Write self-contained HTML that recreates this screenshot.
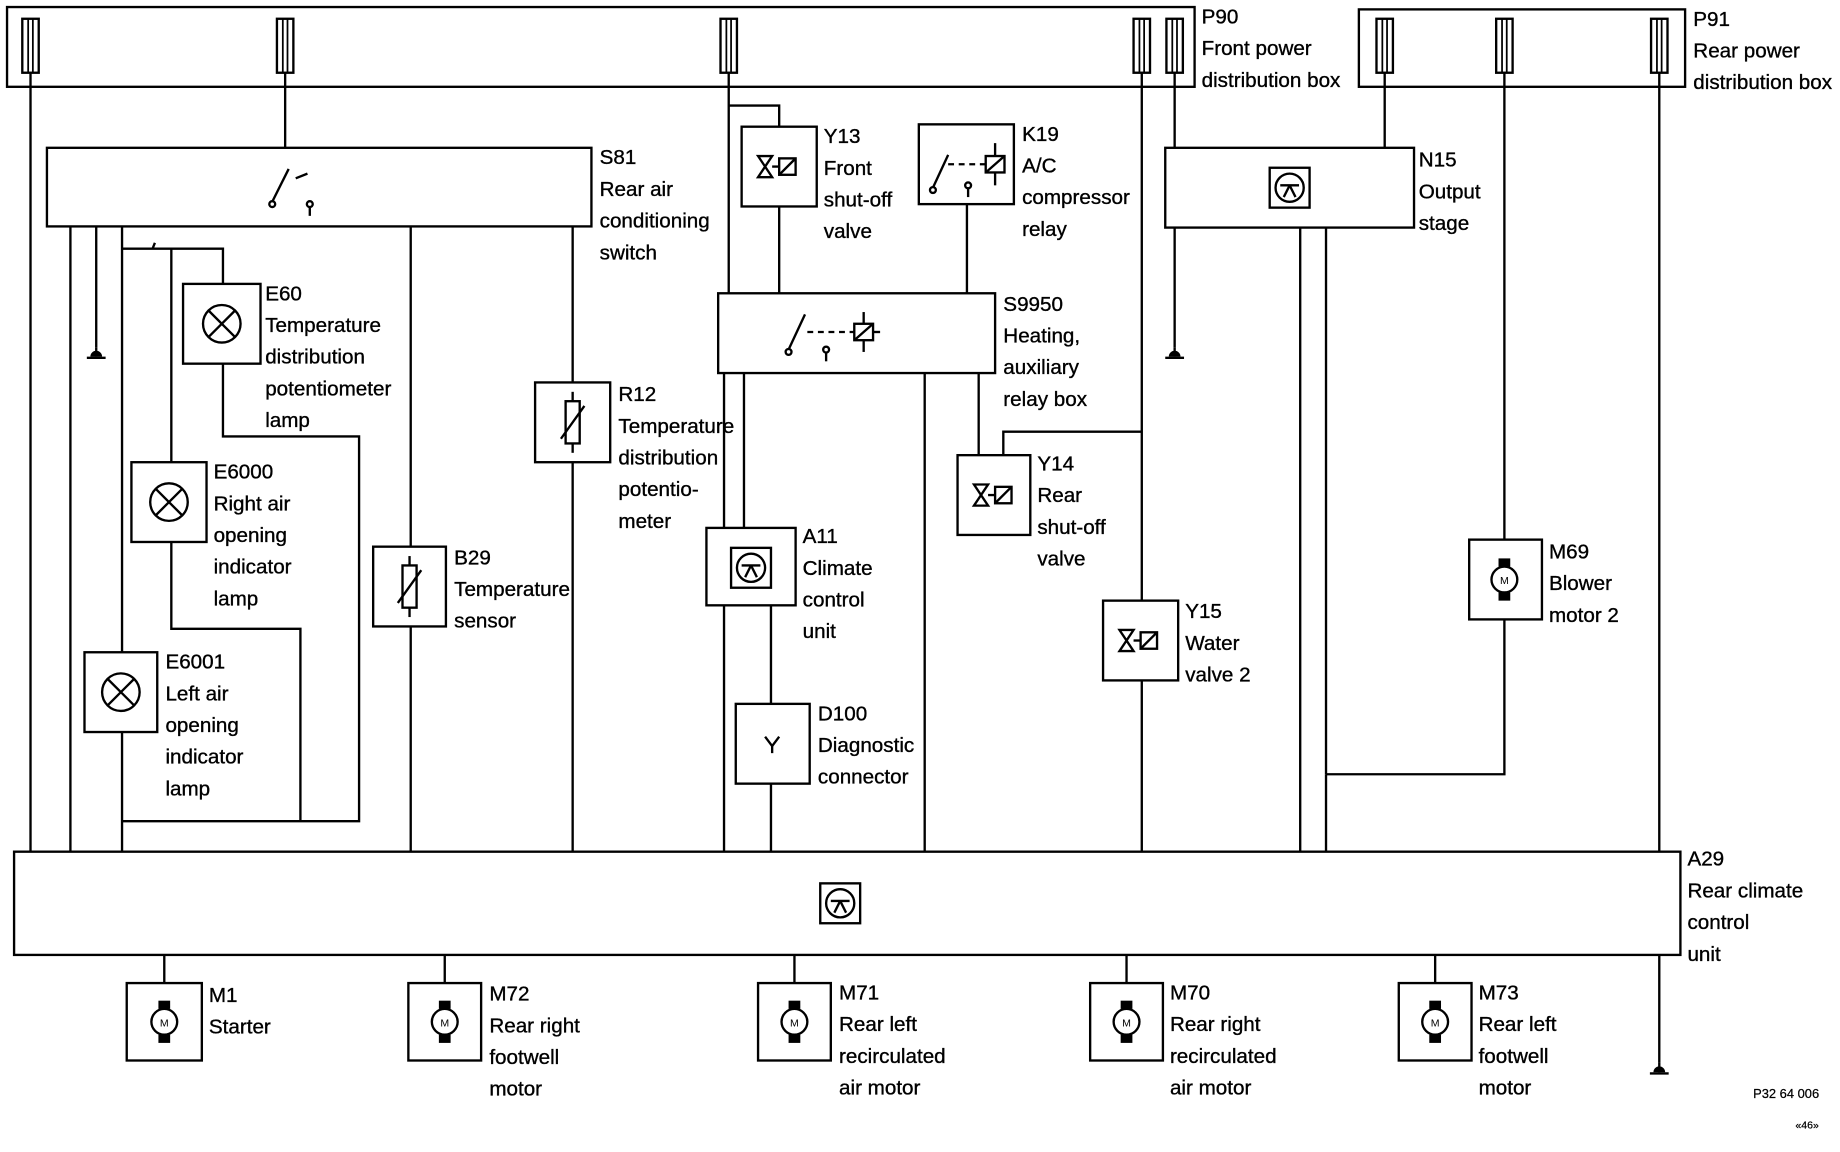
<!DOCTYPE html>
<html><head><meta charset="utf-8"><style>
html,body{margin:0;padding:0;background:#fff;}
svg{display:block;}
text{font-family:"Liberation Sans",sans-serif;font-size:17.6px;fill:#000;stroke:#000;stroke-width:0.3px;}
</style></head><body>
<svg width="1840" height="1152" viewBox="0 0 1568 982" preserveAspectRatio="none" xmlns="http://www.w3.org/2000/svg">
<defs>
<g id="gnd"><line x1="0" y1="-8" x2="0" y2="0" stroke="#000" stroke-width="2"/><path d="M-5,0 A5,5 0 0 1 5,0 Z" fill="#000"/><line x1="-8" y1="1" x2="8" y2="1" stroke="#000" stroke-width="2"/></g>
<g id="conn"><rect x="-7" y="0" width="14" height="46" fill="#fff" stroke="#000" stroke-width="2"/><line x1="-2" y1="0" x2="-2" y2="46" stroke="#000" stroke-width="1.5"/><line x1="2" y1="0" x2="2" y2="46" stroke="#000" stroke-width="1.5"/></g>
<g id="motor"><circle cx="0" cy="0" r="11" fill="none" stroke="#000" stroke-width="2"/><rect x="-5" y="-18" width="10" height="7" fill="#000"/><rect x="-5" y="11" width="10" height="7" fill="#000"/><text x="0" y="4" text-anchor="middle" style="font-size:9px;stroke-width:0">M</text></g>
<g id="lamp"><circle cx="0" cy="0" r="16" fill="none" stroke="#000" stroke-width="2"/><line x1="-11" y1="-11" x2="11" y2="11" stroke="#000" stroke-width="2"/><line x1="-11" y1="11" x2="11" y2="-11" stroke="#000" stroke-width="2"/></g>
<g id="ecu"><rect x="-17" y="-17" width="34" height="34" fill="none" stroke="#000" stroke-width="2"/><circle cx="0" cy="0" r="12" fill="none" stroke="#000" stroke-width="2"/><line x1="-8" y1="-2" x2="8" y2="-2" stroke="#000" stroke-width="2"/><line x1="0" y1="-2" x2="-5" y2="8" stroke="#000" stroke-width="2"/><line x1="0" y1="-2" x2="5" y2="8" stroke="#000" stroke-width="2"/></g>
<g id="valve"><path d="M-18,-9 L-6,9 L-18,9 L-6,-9 Z" fill="none" stroke="#000" stroke-width="2"/><line x1="-6" y1="0" x2="0" y2="0" stroke="#000" stroke-width="2"/><rect x="0" y="-7" width="14" height="14" fill="none" stroke="#000" stroke-width="2"/><line x1="0" y1="7" x2="14" y2="-7" stroke="#000" stroke-width="2"/></g>
<g id="pot"><rect x="-6" y="-18" width="12" height="36" fill="none" stroke="#000" stroke-width="2"/><line x1="-10" y1="14" x2="10" y2="-14" stroke="#000" stroke-width="2"/><line x1="0" y1="-26" x2="0" y2="-18" stroke="#000" stroke-width="2"/><line x1="0" y1="18" x2="0" y2="26" stroke="#000" stroke-width="2"/></g>
</defs>
<g stroke="#000" stroke-width="2" fill="none">
<rect x="6" y="6" width="1012" height="68"/>
<rect x="1158" y="8" width="278" height="66"/>
<line x1="26" y1="62" x2="26" y2="726"/>
<line x1="243" y1="62" x2="243" y2="126"/>
<line x1="621" y1="62" x2="621" y2="250"/>
<line x1="973" y1="62" x2="973" y2="726"/>
<line x1="1001" y1="62" x2="1001" y2="296"/>
<line x1="1180" y1="62" x2="1180" y2="126"/>
<line x1="1282" y1="62" x2="1282" y2="460"/>
<line x1="1414" y1="62" x2="1414" y2="726"/>
<line x1="1414" y1="814" x2="1414" y2="906"/>
<rect x="40" y="126" width="464" height="67" fill="#fff"/>
<line x1="232" y1="172" x2="246" y2="144"/>
<circle cx="232" cy="174" r="2.5"/>
<line x1="252" y1="152" x2="262" y2="148"/>
<circle cx="264" cy="174" r="2.5"/><line x1="264" y1="176" x2="264" y2="184"/>
<line x1="60" y1="193" x2="60" y2="726"/>
<line x1="82" y1="193" x2="82" y2="296"/>
<line x1="104" y1="193" x2="104" y2="556"/>
<line x1="104" y1="624" x2="104" y2="726"/>
<line x1="350" y1="193" x2="350" y2="726"/>
<line x1="488" y1="193" x2="488" y2="726"/>
<polyline points="104,212 190,212 190,242"/>
<line x1="130" y1="212" x2="132" y2="207"/>
<polyline points="190,310 190,372 306,372 306,700 104,700"/>
<line x1="146" y1="212" x2="146" y2="394"/>
<polyline points="146,462 146,536 256,536 256,700"/>
<rect x="156" y="242" width="66" height="68" fill="#fff"/>
<rect x="112" y="394" width="64" height="68" fill="#fff"/>
<rect x="72" y="556" width="62" height="68" fill="#fff"/>
<rect x="318" y="466" width="62" height="68" fill="#fff"/>
<rect x="456" y="326" width="64" height="68" fill="#fff"/>
<polyline points="621,90 664,90 664,108"/>
<rect x="632" y="108" width="64" height="68" fill="#fff"/>
<line x1="664" y1="176" x2="664" y2="250"/>
<rect x="783" y="106" width="81" height="68" fill="#fff"/>
<line x1="824" y1="174" x2="824" y2="250"/>
<line x1="795" y1="160" x2="808" y2="132"/><circle cx="795" cy="162" r="2.5"/>
<line x1="808" y1="140" x2="840" y2="140" stroke-dasharray="5,4"/>
<rect x="840" y="133" width="16" height="14"/><line x1="840" y1="147" x2="856" y2="133"/>
<line x1="848" y1="122" x2="848" y2="133"/><line x1="848" y1="147" x2="848" y2="158"/>
<circle cx="825" cy="158" r="2.5"/><line x1="825" y1="160" x2="825" y2="168"/>
<rect x="612" y="250" width="236" height="68" fill="#fff"/>
<line x1="672" y1="298" x2="686" y2="268"/><circle cx="672" cy="300" r="2.5"/>
<line x1="688" y1="283" x2="728" y2="283" stroke-dasharray="5,4"/>
<rect x="728" y="276" width="16" height="14"/><line x1="728" y1="290" x2="744" y2="276"/>
<line x1="736" y1="266" x2="736" y2="276"/><line x1="736" y1="290" x2="736" y2="300"/>
<line x1="744" y1="283" x2="750" y2="283"/>
<circle cx="704" cy="298" r="2.5"/><line x1="704" y1="300" x2="704" y2="308"/>
<line x1="617" y1="318" x2="617" y2="726"/>
<line x1="634" y1="318" x2="634" y2="450"/>
<line x1="788" y1="318" x2="788" y2="726"/>
<line x1="834" y1="318" x2="834" y2="388"/>
<polyline points="855,388 855,368 973,368"/>
<rect x="602" y="450" width="76" height="66" fill="#fff"/>
<line x1="657" y1="516" x2="657" y2="600"/>
<line x1="657" y1="668" x2="657" y2="726"/>
<rect x="627" y="600" width="63" height="68" fill="#fff"/>
<rect x="816" y="388" width="62" height="68" fill="#fff"/>
<rect x="940" y="512" width="64" height="68" fill="#fff"/>
<rect x="993" y="126" width="212" height="68" fill="#fff"/>
<line x1="1108" y1="194" x2="1108" y2="726"/>
<line x1="1130" y1="194" x2="1130" y2="660"/>
<polyline points="1130,660 1282,660 1282,528"/>
<line x1="1130" y1="660" x2="1130" y2="726"/>
<rect x="1252" y="460" width="62" height="68" fill="#fff"/>
<rect x="12" y="726" width="1420" height="88" fill="#fff"/>
<line x1="140" y1="814" x2="140" y2="838"/><rect x="108" y="838" width="64" height="66" fill="#fff"/>
<line x1="379" y1="814" x2="379" y2="838"/><rect x="348" y="838" width="62" height="66" fill="#fff"/>
<line x1="677" y1="814" x2="677" y2="838"/><rect x="646" y="838" width="62" height="66" fill="#fff"/>
<line x1="960" y1="814" x2="960" y2="838"/><rect x="929" y="838" width="62" height="66" fill="#fff"/>
<line x1="1223" y1="814" x2="1223" y2="838"/><rect x="1192" y="838" width="62" height="66" fill="#fff"/>
</g>
<use href="#conn" x="26" y="16"/><use href="#conn" x="243" y="16"/><use href="#conn" x="621" y="16"/>
<use href="#conn" x="973" y="16"/><use href="#conn" x="1001" y="16"/>
<use href="#conn" x="1180" y="16"/><use href="#conn" x="1282" y="16"/><use href="#conn" x="1414" y="16"/>
<use href="#gnd" x="82" y="304"/><use href="#gnd" x="1001" y="304"/><use href="#gnd" x="1414" y="914"/>
<use href="#lamp" x="189" y="276"/><use href="#lamp" x="144" y="428"/><use href="#lamp" x="103" y="590"/>
<use href="#pot" x="349" y="500"/><use href="#pot" x="488" y="360"/>
<use href="#valve" x="664" y="142"/><use href="#valve" x="848" y="422"/><use href="#valve" x="972" y="546"/>
<use href="#ecu" x="640" y="484"/><use href="#ecu" x="1099" y="160"/><use href="#ecu" x="716" y="770"/>
<use href="#motor" x="1282" y="494"/><use href="#motor" x="140" y="871"/><use href="#motor" x="379" y="871"/>
<use href="#motor" x="677" y="871"/><use href="#motor" x="960" y="871"/><use href="#motor" x="1223" y="871"/>
<g stroke="#000" stroke-width="2" fill="none"><line x1="658" y1="636" x2="658" y2="642"/><path d="M652,628 L658,636 L664,628"/></g>
<g>
<text x="1024" y="20">P90</text><text x="1024" y="47">Front power</text><text x="1024" y="74">distribution box</text>
<text x="1443" y="22">P91</text><text x="1443" y="49">Rear power</text><text x="1443" y="76">distribution box</text>
<text x="511" y="140">S81</text><text x="511" y="167">Rear air</text><text x="511" y="194">conditioning</text><text x="511" y="221">switch</text>
<text x="702" y="122">Y13</text><text x="702" y="149">Front</text><text x="702" y="176">shut-off</text><text x="702" y="203">valve</text>
<text x="871" y="120">K19</text><text x="871" y="147">A/C</text><text x="871" y="174">compressor</text><text x="871" y="201">relay</text>
<text x="1209" y="142">N15</text><text x="1209" y="169">Output</text><text x="1209" y="196">stage</text>
<text x="226" y="256">E60</text><text x="226" y="283">Temperature</text><text x="226" y="310">distribution</text><text x="226" y="337">potentiometer</text><text x="226" y="364">lamp</text>
<text x="855" y="265">S9950</text><text x="855" y="292">Heating,</text><text x="855" y="319">auxiliary</text><text x="855" y="346">relay box</text>
<text x="527" y="342">R12</text><text x="527" y="369">Temperature</text><text x="527" y="396">distribution</text><text x="527" y="423">potentio-</text><text x="527" y="450">meter</text>
<text x="182" y="408">E6000</text><text x="182" y="435">Right air</text><text x="182" y="462">opening</text><text x="182" y="489">indicator</text><text x="182" y="516">lamp</text>
<text x="884" y="401">Y14</text><text x="884" y="428">Rear</text><text x="884" y="455">shut-off</text><text x="884" y="482">valve</text>
<text x="684" y="463">A11</text><text x="684" y="490">Climate</text><text x="684" y="517">control</text><text x="684" y="544">unit</text>
<text x="1320" y="476">M69</text><text x="1320" y="503">Blower</text><text x="1320" y="530">motor 2</text>
<text x="387" y="481">B29</text><text x="387" y="508">Temperature</text><text x="387" y="535">sensor</text>
<text x="1010" y="527">Y15</text><text x="1010" y="554">Water</text><text x="1010" y="581">valve 2</text>
<text x="141" y="570">E6001</text><text x="141" y="597">Left air</text><text x="141" y="624">opening</text><text x="141" y="651">indicator</text><text x="141" y="678">lamp</text>
<text x="697" y="614">D100</text><text x="697" y="641">Diagnostic</text><text x="697" y="668">connector</text>
<text x="1438" y="738">A29</text><text x="1438" y="765">Rear climate</text><text x="1438" y="792">control</text><text x="1438" y="819">unit</text>
<text x="178" y="854">M1</text><text x="178" y="881">Starter</text>
<text x="417" y="853">M72</text><text x="417" y="880">Rear right</text><text x="417" y="907">footwell</text><text x="417" y="934">motor</text>
<text x="715" y="852">M71</text><text x="715" y="879">Rear left</text><text x="715" y="906">recirculated</text><text x="715" y="933">air motor</text>
<text x="997" y="852">M70</text><text x="997" y="879">Rear right</text><text x="997" y="906">recirculated</text><text x="997" y="933">air motor</text>
<text x="1260" y="852">M73</text><text x="1260" y="879">Rear left</text><text x="1260" y="906">footwell</text><text x="1260" y="933">motor</text>
<text x="1494" y="936" style="font-size:11px;stroke-width:0.2px">P32 64 006</text>
<text x="1530" y="962" style="font-size:9px;stroke-width:0.2px">«46»</text>
</g>
</svg>
</body></html>
